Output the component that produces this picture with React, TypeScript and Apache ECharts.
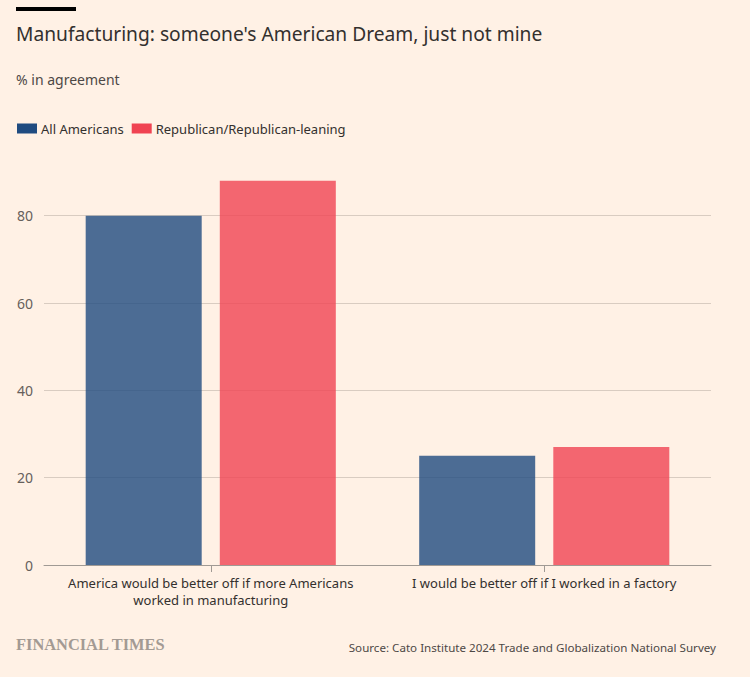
import React, { useEffect, useRef } from "react";
import * as echarts from "echarts";

const categories = [
  "America would be better off if more Americans\nworked in manufacturing",
  "I would be better off if I worked in a factory",
];
const seriesNames = ["All Americans", "Republican/Republican-leaning"];
const allAmericans = [80, 25];
const republican = [88, 27];
const yTicks = [0, 20, 40, 60, 80];

const FONT = "'Noto Sans', sans-serif";

export default function App() {
  const ref = useRef<HTMLDivElement>(null);
  useEffect(() => {
    if (!ref.current) return;
    const chart = echarts.init(ref.current, undefined, { renderer: "svg" });
    chart.setOption({
      animation: false,
      backgroundColor: "#FFF1E5",
      textStyle: { fontFamily: FONT },
      graphic: [
        { type: "rect", left: 16, top: 7, shape: { width: 60, height: 4 }, style: { fill: "#000" } },
        {
          type: "text", left: 16, top: 24,
          style: { text: "Manufacturing: someone's American Dream, just not mine", fontSize: 19.2, fontFamily: FONT, fill: "#33302e" },
        },
        {
          type: "text", left: 16, top: 72,
          style: { text: "% in agreement", fontSize: 14, fontFamily: FONT, fill: "#4d4845" },
        },
        {
          type: "text", left: 16, top: 636,
          style: { text: "FINANCIAL TIMES", fontSize: 16.4, fontWeight: "bold", fontFamily: "'Liberation Serif', serif", fill: "#a39a93" },
        },
        {
          type: "text", right: 34, top: 641,
          style: { text: "Source: Cato Institute 2024 Trade and Globalization National Survey", fontSize: 11.6, fontFamily: FONT, fill: "#4d4845" },
        },
      ],
      legend: {
        left: 12,
        top: 117,
        icon: "rect",
        itemWidth: 20,
        itemHeight: 10,
        itemGap: 8,
        itemStyle: { opacity: 1 },
        textStyle: { fontSize: 13, fontFamily: FONT, color: "#33302e", padding: [0, 0, 0, -1] },
        data: seriesNames,
      },
      grid: { left: 44, right: 39, top: 172, bottom: 112, containLabel: false },
      xAxis: {
        type: "category",
        data: categories,
        axisLine: { lineStyle: { color: "#a09a94" } },
        axisTick: { show: true, alignWithLabel: true, length: 7, lineStyle: { color: "#a09a94" } },
        axisLabel: { fontSize: 13, fontFamily: FONT, color: "#33302e", lineHeight: 17, margin: 9, interval: 0 },
      },
      yAxis: {
        type: "value",
        min: 0,
        max: 90,
        interval: 20,
        axisLine: { show: false },
        axisTick: { show: false },
        axisLabel: {
          fontSize: 14, fontFamily: FONT, color: "#66605c", margin: 11, showMaxLabel: false,
          formatter: (v: number) => (yTicks.includes(v) ? String(v) : ""),
        },
        splitLine: { show: true, showMaxLine: false, lineStyle: { color: "#d9ccc1" } },
      },
      series: [
        {
          name: seriesNames[0],
          type: "bar",
          data: allAmericans,
          barGap: "15.6%",
          barCategoryGap: "25%",
          itemStyle: { color: "#1f4b80", opacity: 0.8 },
        },
        {
          name: seriesNames[1],
          type: "bar",
          data: republican,
          itemStyle: { color: "#f04352", opacity: 0.8 },
        },
      ],
    });
    return () => chart.dispose();
  }, []);
  return (
    <div style={{ position: "fixed", left: 0, top: 0 }}>
      <div ref={ref} style={{ width: 750, height: 677 }} />
    </div>
  );
}
